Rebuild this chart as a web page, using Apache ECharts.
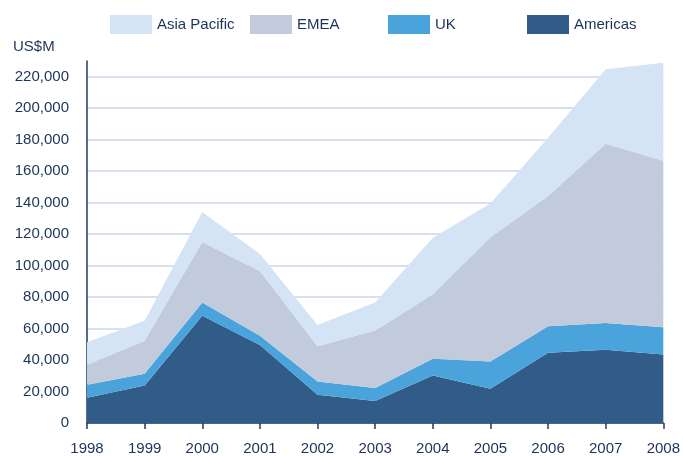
<!DOCTYPE html>
<html>
<head>
<meta charset="utf-8">
<script src="https://cdn.jsdelivr.net/npm/echarts@6/dist/echarts.min.js"></script>
<style>
	html, body { margin: 0; padding: 0; background: #fff; }
	#chart { width: 683px; height: 456px; }
</style>
</head>
<body>
<div id="chart"></div>
<script>
	// 年份
	var years = ['1998', '1999', '2000', '2001', '2002', '2003', '2004', '2005', '2006', '2007', '2008'];
	// 各地区收入 (US$M)
	var americas = [16100, 23900, 68100, 49600, 18000, 14000, 30200, 21800, 44600, 46500, 43500];
	var uk = [8200, 7400, 8500, 5900, 8400, 8200, 10600, 17300, 16800, 17000, 17300];
	var emea = [12700, 21000, 38400, 41100, 22400, 36500, 41000, 78900, 82800, 114000, 105900];
	var asiaPacific = [14300, 12700, 19000, 10700, 13500, 17900, 35900, 21500, 37100, 47200, 62200];
	var legendNames = ['Asia Pacific', 'EMEA', 'UK', 'Americas'];

	var navy = '#1c3358',
		font = 'Liberation Sans';

	function areaSeries(name, data, color) {
		return {
			name: name,
			type: 'line',
			stack: 'total',
			data: data,
			showSymbol: false,
			symbol: 'none',
			color: color,
			lineStyle: { width: 0 },
			areaStyle: { color: color, opacity: 1 }
		};
	}

	// 图例每项间距固定，分开画
	var legendLeft = [110, 250, 388, 527];
	var legends = [];
	for (var i = 0; i < legendNames.length; i++) {
		legends.push({
			data: [legendNames[i]],
			left: legendLeft[i],
			top: 15,
			padding: 0,
			icon: 'rect',
			itemWidth: 42,
			itemHeight: 19,
			selectedMode: false,
			textStyle: { fontFamily: font, fontSize: 15, color: navy }
		});
	}

	var option = {
		animation: false,
		title: {
			text: 'US$M',
			left: 13,
			top: 39,
			padding: 0,
			textStyle: { fontFamily: font, fontSize: 15, fontWeight: 'normal', color: navy }
		},
		legend: legends,
		grid: {
			left: 87,
			right: 16,
			top: 61,
			bottom: 32,
			containLabel: false
		},
		xAxis: {
			type: 'category',
			data: years,
			boundaryGap: false,
			axisLine: { lineStyle: { color: '#1f3d66', width: 1.5 } },
			axisTick: { show: true, length: 6, inside: false, lineStyle: { color: '#1f3d66', width: 1.5 } },
			axisLabel: { fontFamily: font, fontSize: 15, color: navy, margin: 18 },
			splitLine: { show: false }
		},
		yAxis: {
			type: 'value',
			min: 0,
			max: 230000,
			interval: 20000,
			axisLine: { show: true, lineStyle: { color: '#1f3d66', width: 1.5 } },
			axisTick: { show: false },
			axisLabel: {
				fontFamily: font, fontSize: 15, color: navy, margin: 18,
				showMaxLabel: false,
				formatter: function(value) {
					if (value % 20000 !== 0) return '';
					return value.toLocaleString('en-US');
				}
			},
			splitLine: {
				show: true,
				showMaxLine: false,
				lineStyle: { color: '#cdd5e4', width: 1.5 }
			}
		},
		series: [
			areaSeries('Americas', americas, '#305c87'),
			areaSeries('UK', uk, '#4aa3db'),
			areaSeries('EMEA', emea, '#c1cbdc'),
			areaSeries('Asia Pacific', asiaPacific, '#d4e4f5')
		]
	};

	var myChart = echarts.init(document.getElementById('chart'));
	myChart.setOption(option);
</script>
</body>
</html>
